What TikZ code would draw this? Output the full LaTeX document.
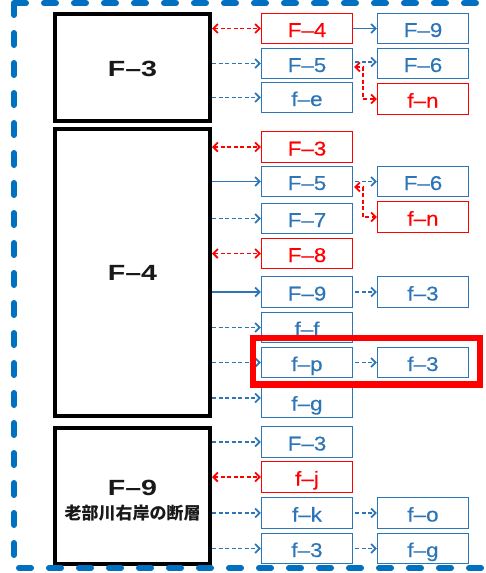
\documentclass[tikz,border=0pt]{standalone}
\usepackage{fontspec}
\setmainfont{Liberation Sans}
\newfontfamily\labf{Liberation Sans}[FakeStretch=1.12,FakeBold=0.4]
\newfontfamily\bigf{Liberation Sans}[FakeStretch=1.3]
\newfontfamily\jpf{Noto Sans CJK JP}
\usetikzlibrary{arrows.meta}
\definecolor{bl}{RGB}{46,117,182}
\definecolor{ob}{RGB}{0,112,192}
\definecolor{rd}{RGB}{255,0,0}
\begin{document}
\begin{tikzpicture}[x=1pt,y=-1pt,
  >={Straight Barb[length=4.5pt,width=9pt]},
  bigbox/.style={draw=black, line width=4pt, minimum width=155pt, inner sep=0pt,
    font=\bigf\bfseries\fontsize{22}{26}\selectfont, text=black!90},
  sb/.style={draw, line width=1.2pt, minimum width=91pt, minimum height=30.5pt, inner sep=0pt,
    text height=17pt, text depth=0pt, font=\labf\fontsize{20}{22}\selectfont},
  bsb/.style={sb, draw=bl, text=bl},
  rsb/.style={sb, draw=rd, text=rd},
  cn/.style={line width=1.8pt},
  dsh/.style={dash pattern=on 4pt off 2.5pt},
  sh/.style={shorten <=2pt}]
\useasboundingbox (0,0) rectangle (485,573);

% big boxes
\node[bigbox, minimum height=107pt] (B3) at (132.5,67.5) {\rule{0pt}{19pt}F–3};
\node[bigbox, minimum height=287pt] (B4) at (132.5,272.5) {F–4};
\node[bigbox, minimum height=136pt, align=center] (B9) at (132.5,496)
  {\rule{0pt}{24pt}F–9\\[-2pt]{\jpf\bfseries\fontsize{17}{20}\selectfont 老部川右岸の断層}};

% group 1
\node[rsb] (a1) at (307,28.5) {F–4};
\node[bsb] (a2) at (307,63.5) {F–5};
\node[bsb] (a3) at (307,97.5) {f–e};
\node[bsb] (c1) at (423,28.5) {F–9};
\node[bsb] (c2) at (423,63.5) {F–6};
\node[rsb] (c3) at (423,99) {f–n};

% group 2
\node[rsb] (d1) at (307,147) {F–3};
\node[bsb] (d2) at (307,181.5) {F–5};
\node[bsb] (d3) at (307,218.5) {F–7};
\node[rsb] (d4) at (307,253.5) {F–8};
\node[bsb] (d5) at (307,292) {F–9};
\node[bsb] (d6) at (307,327.5) {f–f};
\node[bsb] (d7) at (307,362.5) {f–p};
\node[bsb] (d8) at (307,402) {f–g};
\node[bsb] (e2) at (423,181.5) {F–6};
\node[rsb] (e3) at (423,217) {f–n};
\node[bsb] (e5) at (423,292) {f–3};
\node[bsb] (e7) at (423,362.5) {f–3};
\coordinate (d8a) at ([yshift=4pt]d8.west);

% group 3
\node[bsb] (g1) at (307,442) {F–3};
\node[rsb] (g2) at (307,477) {f–j};
\node[bsb] (g3) at (307,513) {f–k};
\node[bsb] (g4) at (307,548.5) {f–3};
\node[bsb] (h3) at (423,513) {f–o};
\node[bsb] (h4) at (423,548.5) {f–g};

% connectors group 1
\draw[rd,cn,dsh,<->] (B3.east |- a1.west) -- (a1.west);
\draw[bl,cn,dsh,->] (B3.east |- a2.west) -- (a2.west);
\draw[bl,cn,dsh,->] (B3.east |- a3.west) -- (a3.west);
\draw[bl,cn,->] (a1.east) -- (c1.west);
\draw[bl,cn,dsh,->,sh] ([yshift=1.5pt]a2.east) -- ([yshift=1.5pt]c2.west);
\draw[rd,cn,dsh,<->,shorten <=1pt] ([yshift=-3.5pt]a2.east) -- ++(10,0) |- (c3.west);

% connectors group 2
\draw[rd,cn,dsh,<->] (B4.east |- d1.west) -- (d1.west);
\draw[bl,cn,->] (B4.east |- d2.west) -- (d2.west);
\draw[bl,cn,dsh,->] (B4.east |- d3.west) -- (d3.west);
\draw[rd,cn,dsh,<->] (B4.east |- d4.west) -- (d4.west);
\draw[bl,cn,->] (B4.east |- d5.west) -- (d5.west);
\draw[bl,cn,dsh,->] (B4.east |- d6.west) -- (d6.west);
\draw[bl,cn,dsh,->] (B4.east |- d7.west) -- (d7.west);
\draw[bl,cn,dsh,->] (B4.east |- d8a) -- (d8a);
\draw[bl,cn,dsh,->,sh] (d2.east) -- (e2.west);
\draw[rd,cn,dsh,<->,shorten <=1pt] ([yshift=-5.5pt]d2.east) -- ++(10,0) |- (e3.west);
\draw[bl,cn,dsh,->,sh] (d5.east) -- (e5.west);
\draw[bl,cn,dsh,->,sh] (d7.east) -- (e7.west);

% connectors group 3
\draw[bl,cn,dsh,->] (B9.east |- g1.west) -- (g1.west);
\draw[rd,cn,dsh,<->] (B9.east |- g2.west) -- (g2.west);
\draw[bl,cn,dsh,->] (B9.east |- g3.west) -- (g3.west);
\draw[bl,cn,dsh,->] (B9.east |- g4.west) -- (g4.west);
\draw[bl,cn,dsh,->,sh] (g3.east) -- (h3.west);
\draw[bl,cn,dsh,->,sh] (g4.east) -- (h4.west);

% highlight
\draw[rd, line width=6.5pt] (253,338) rectangle (480,384.5);

% outer dashed frame
\draw[ob, line width=6pt, line cap=round, dash pattern=on 12pt off 18pt] (14,3) rectangle (505,568);
\end{tikzpicture}
\end{document}
